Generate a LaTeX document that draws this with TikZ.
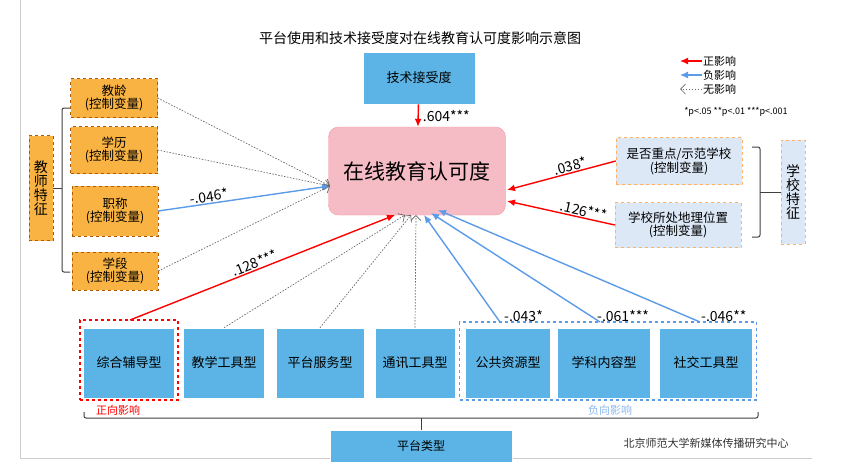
\documentclass[tikz,border=0pt]{standalone}
\usepackage{fontspec}
\setmainfont{Noto Sans CJK SC}
\usetikzlibrary{arrows.meta,decorations.pathreplacing}
\definecolor{bbox}{HTML}{5BB4E5}
\definecolor{obox}{HTML}{F9B342}
\definecolor{lbox}{HTML}{DDE8F7}
\definecolor{pinkc}{HTML}{F6BCC6}
\definecolor{posr}{HTML}{FF0000}
\definecolor{negb}{HTML}{5B9BE8}
\begin{document}
\begin{tikzpicture}[x=1pt,y=-1pt,
 fs/.style={font=\fontsize{#1}{#1}\selectfont},
 bl/.style={fill=bbox,draw=white,line width=0.6pt,fs=13},
 ob/.style={fill=obox,draw=orange!70!black,dashed,line width=0.5pt,fs=12.5,align=center},
 sb/.style={fill=lbox,draw=orange!60,dashed,line width=0.5pt,fs=12.5,align=center},
 parr/.style={-{Latex[length=8pt,width=7pt]},draw=posr,line width=1.4pt},
 narr/.style={-{Latex[length=8pt,width=7pt]},draw=negb,line width=1.4pt},
 zarr/.style={-{Straight Barb[length=5pt]},draw=gray!80!black,dash pattern=on 1.5pt off 1.5pt,line width=0.7pt},
 lab/.style={fs=14,inner sep=1pt},
 brk/.style={draw=black!75,line width=1pt,rounded corners=2pt}]
\useasboundingbox (0,0) rectangle (860,472);
\fill[white] (0,0) rectangle (860,472);
\draw[gray!40] (20,0) -- (20,458) -- (812,458);
\node[fs=14] (title) at (420,38) {平台使用和技术接受度对在线教育认可度影响示意图};
% legend
\coordinate (l1a) at (702,61); \coordinate (l1b) at (680,61);
\coordinate (l2a) at (702,75); \coordinate (l2b) at (680,75);
\coordinate (l3a) at (702,89); \coordinate (l3b) at (680,89);
\draw[parr,line width=1.2pt] (l1a) -- (l1b);
\draw[narr,line width=1.2pt] (l2a) -- (l2b);
\draw[zarr] (l3a) -- (l3b);
\node[fs=11,anchor=west,inner sep=1pt] (lt1) at (l1a) {正影响};
\node[fs=11,anchor=west,inner sep=1pt] (lt2) at (l2a) {负影响};
\node[fs=11,anchor=west,inner sep=1pt] (lt3) at (l3a) {无影响};
\node[fs=9] (pv) at (736,112) {*p<.05 **p<.01 ***p<.001};
% center
\node[fill=pinkc,draw=pinkc!80!red,rounded corners=10pt,minimum width=177pt,minimum height=88pt,fs=21] (C) at (417,171) {在线教育认可度};
\node[bl,minimum width=112pt,minimum height=52pt,fs=13] (T) at (419,78) {技术接受度};
\draw[parr] (T) -- (C) node[lab,pos=0.5,right=3pt] {.604***};
% teacher
\node[ob,minimum width=87pt,minimum height=39pt,inner ysep=1pt] (A1) at (114,98) {教龄\\(控制变量)};
\node[ob,minimum width=87pt,minimum height=47pt] (A2) at (114,150) {学历\\(控制变量)};
\node[ob,minimum width=86pt,minimum height=50pt] (A3) at (115,211) {职称\\(控制变量)};
\node[ob,minimum width=86pt,minimum height=38pt,inner ysep=1pt] (A4) at (115,271) {学段\\(控制变量)};
\node[ob,minimum width=24pt,minimum height=105pt,fs=14,inner xsep=2pt] (TF) at (41,188) {教\\师\\特\\征};
\draw[brk] (70,108) -- (62,108) -- (62,272) -- (70,272);
\draw[brk] (TF.east) -- (62,188);
\coordinate (tgl) at (330,186);
\draw[zarr] (A1.east) -- (tgl);
\draw[zarr] (A2.east) -- (tgl);
\draw[narr] (A3.east) -- (tgl) node[lab,pos=0.3,above,sloped] {-.046*};
\draw[zarr] (A4.east) -- (tgl);
% school
\node[sb,minimum width=126pt,minimum height=47pt] (S1) at (679,161) {是否重点/示范学校\\(控制变量)};
\node[sb,minimum width=126pt,minimum height=45pt] (S2) at (678,225) {学校所处地理位置\\(控制变量)};
\node[sb,minimum width=24pt,minimum height=104pt,fs=14,inner xsep=2pt] (SF) at (793,192) {学\\校\\特\\征};
\draw[brk] (752,147) -- (760,147) -- (760,237) -- (752,237);
\draw[brk] (760,192) -- (SF.west);
\draw[parr] (S1.west) -- (507,190) node[lab,pos=0.4,above,sloped] {.038*};
\draw[parr] (S2.west) -- (507,201) node[lab,pos=0.3,above,sloped] {.126***};
% bottom
\node[bl,minimum width=91pt,minimum height=70pt] (B1) at (129,363) {综合辅导型};
\node[bl,minimum width=81pt,minimum height=70pt] (B2) at (224,363) {教学工具型};
\node[bl,minimum width=88pt,minimum height=70pt] (B3) at (320,363) {平台服务型};
\node[bl,minimum width=80pt,minimum height=70pt] (B4) at (415,363) {通讯工具型};
\node[bl,minimum width=85pt,minimum height=70pt] (B5) at (508,363) {公共资源型};
\node[bl,minimum width=93pt,minimum height=70pt] (B6) at (604,363) {学科内容型};
\node[bl,minimum width=93pt,minimum height=70pt] (B7) at (706,363) {社交工具型};
\node[draw=posr,dashed,line width=1.2pt,minimum width=98pt,minimum height=80pt] (R) at (129,360) {};
\node[draw=negb,dashed,line width=1.2pt,minimum width=297pt,minimum height=78pt] (N) at (608,361) {};
\node[fs=11,text=posr] (Rl) at (118,410) {正向影响};
\node[fs=11,text=negb!70] (Nl) at (610,410) {负向影响};
\draw[brk] (84,412) -- (84,418) -- (758,418) -- (758,412);
\node[bl,minimum width=182pt,minimum height=32pt,fs=12] (P) at (421,446) {平台类型};
\draw[brk] (421,418) -- (P.north);
\node[fs=11,text=black!80] (org) at (706,443) {北京师范大学新媒体传播研究中心};
\draw[parr] (130,320) -- (395,215) node[lab,pos=0.48,above,sloped] {.128***};
\draw[zarr] (B2.north) -- (405,215);
\draw[zarr] (B3.north) -- (411,215);
\draw[zarr] (B4.north) -- (416,215);
\coordinate (n5) at (500,322); \coordinate (n6) at (600,322); \coordinate (n7) at (700,322);
\draw[narr] (n5) -- (424,215);
\draw[narr] (n6) -- (431,213);
\draw[narr] (n7) -- (438,210);
\node[lab,anchor=south west] (v5) at (503,323) {-.043*};
\node[lab,anchor=south west] (v6) at (596,323) {-.061***};
\node[lab,anchor=south west] (v7) at (700,323) {-.046**};
\end{tikzpicture}
\end{document}
